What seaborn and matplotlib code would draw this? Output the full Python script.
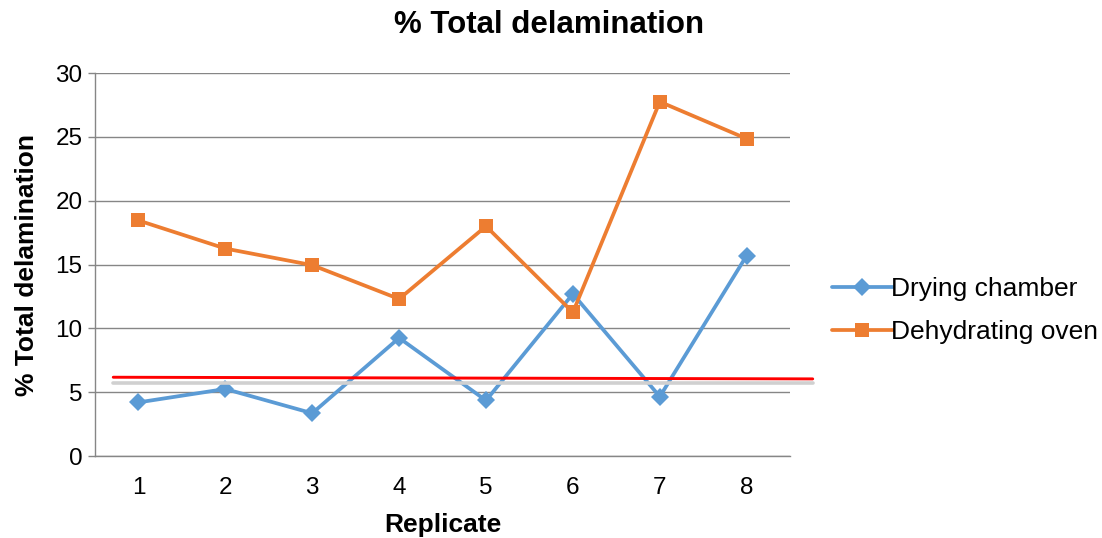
import matplotlib
matplotlib.use("Agg")
import matplotlib.pyplot as plt
import seaborn as sns
import pandas as pd

# Data
replicates = [1, 2, 3, 4, 5, 6, 7, 8]
drying_chamber = [4.2, 5.25, 3.35, 9.25, 4.35, 12.7, 4.65, 15.7]
dehydrating_oven = [18.45, 16.25, 14.95, 12.3, 18.0, 11.25, 27.75, 24.85]
series_names = ["Drying chamber", "Dehydrating oven"]

# Hand-drawn reference lines (x span and y at each end)
ref_x = [0.71, 8.76]
red_line_y = [6.17, 6.04]
grey_line_y = [5.72, 5.72]

df = pd.DataFrame({
    "Replicate": replicates * 2,
    "value": drying_chamber + dehydrating_oven,
    "series": [series_names[0]] * len(replicates) + [series_names[1]] * len(replicates),
})

sns.set_style("white")
plt.rcParams["font.family"] = ["Liberation Sans", "DejaVu Sans"]
plt.rcParams["text.color"] = "black"
plt.rcParams["axes.labelcolor"] = "black"
plt.rcParams["xtick.color"] = "black"
plt.rcParams["ytick.color"] = "black"

fig = plt.figure(figsize=(11.02, 5.38), dpi=100)
ax = fig.add_axes([0.0862, 0.1524, 0.6308, 0.7119])

palette = {"Drying chamber": "#5B9BD5", "Dehydrating oven": "#ED7D31"}
markers = {"Drying chamber": "D", "Dehydrating oven": "s"}
sns.lineplot(data=df, x="Replicate", y="value", hue="series", style="series",
             palette=palette, markers=markers, dashes=False, linewidth=2.7,
             markersize=10, markeredgewidth=0, ax=ax, zorder=3)

# Diamond markers a little smaller than squares
for line in ax.get_lines():
    if line.get_marker() == "D":
        line.set_markersize(9)

ax.plot(ref_x, grey_line_y, color="#d0d0d0", linewidth=2.6, clip_on=False, zorder=4)
ax.plot(ref_x, red_line_y, color="#ff0000", linewidth=2.1, clip_on=False, zorder=5)

ax.set_xlim(0.5, 8.5)
ax.set_ylim(0, 30)
ax.set_yticks(range(0, 31, 5))
ax.set_xticks(replicates)
ax.set_xticks([r - 0.5 for r in replicates] + [8.5], minor=True)
ax.tick_params(axis="x", which="major", length=0, labelsize=17.5, pad=15, labelcolor="black")
ax.tick_params(axis="x", which="minor", length=6, width=1, color="#868686", direction="out")
ax.tick_params(axis="y", which="major", length=5, width=1, color="#868686", labelsize=17.5,
               pad=4, left=True, labelcolor="black")
ax.grid(axis="y", color="#868686", linewidth=1)
ax.set_axisbelow(True)

for side in ["top", "right"]:
    ax.spines[side].set_visible(False)
for side in ["left", "bottom"]:
    ax.spines[side].set_color("#868686")
    ax.spines[side].set_linewidth(1)

ax.set_xlabel("Replicate", fontsize=19, fontweight="bold", labelpad=10, color="black")
ax.set_ylabel("% Total delamination", fontsize=19, fontweight="bold", labelpad=12, color="black")
fig.suptitle("% Total delamination", x=0.498, y=0.982, fontsize=22.5, fontweight="bold",
             color="black")

handles, labels = ax.get_legend_handles_labels()
leg = ax.legend(handles, labels, loc="center left", bbox_to_anchor=(1.045, 0.38),
                frameon=False, fontsize=19, handlelength=2.3, handletextpad=-0.05,
                labelspacing=0.72, borderaxespad=0)
for txt in leg.get_texts():
    txt.set_color("black")

fig.savefig("out.png", dpi=100)
